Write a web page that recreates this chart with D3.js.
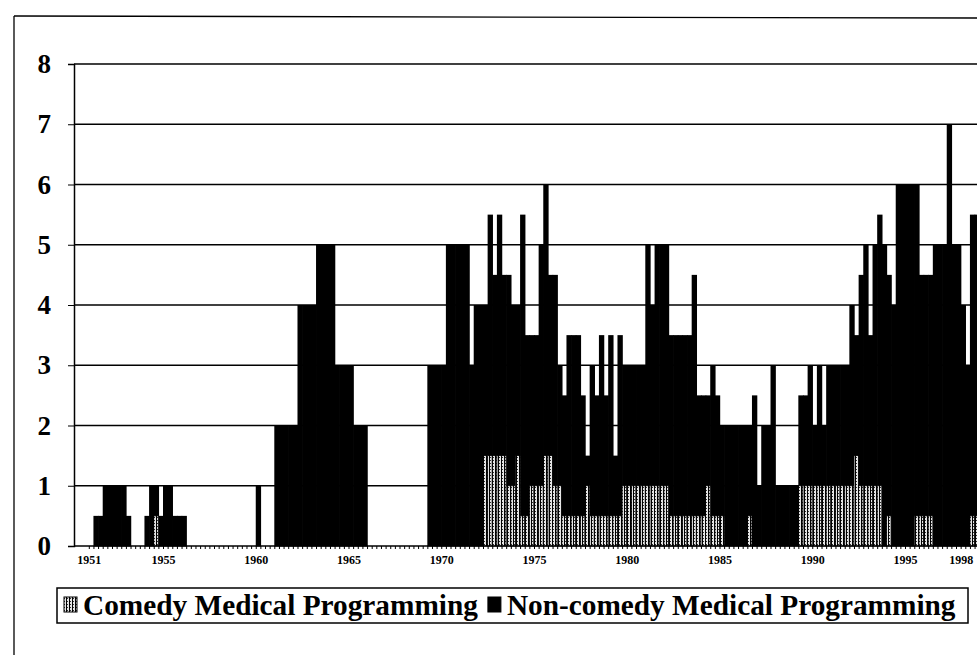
<!DOCTYPE html>
<html><head><meta charset="utf-8">
<script src="https://cdn.jsdelivr.net/npm/d3@7"></script>
<style>body{margin:0;background:#fff;} svg{display:block;}</style>
</head><body>
<svg id="chart" width="977" height="655"></svg>
<script>
// ---- DATA (quarterly counts of medical programmes on air) ----
const years = [1951,1952,1953,1954,1955,1956,1957,1958,1959,1960,
  1961,1962,1963,1964,1965,1966,1967,1968,1969,1970,
  1971,1972,1973,1974,1975,1976,1977,1978,1979,1980,
  1981,1982,1983,1984,1985,1986,1987,1988,1989,1990,
  1991,1992,1993,1994,1995,1996,1997,1998];
const quarterOffsets = [0, 0.25, 0.5, 0.75];

const comedy = [
  0,0,0,0,  0,0,0,0,  0,0,0,0,  0,0,0.5,0,  0,0,0,0,  0,0,0,0,      // 1951-1956
  0,0,0,0,  0,0,0,0,  0,0,0,0,  0,0,0,0,    0,0,0,0,  0,0,0,0,      // 1957-1962
  0,0,0,0,  0,0,0,0,  0,0,0,0,  0,0,0,0,    0,0,0,0,  0,0,0,0,      // 1963-1968
  0,0,0,0,  0,0,0,0,  0,0,0,0,  0,1.5,1.5,1.5,                      // 1969-1972
  1.5,1.5,1,1,  1.5,0.5,0.5,1,  1,1,1.5,1.5,  1,1,0.5,0.5,          // 1973-1976
  0.5,0.5,0.5,1,  0.5,0.5,0.5,0.5,  0.5,0.5,0.5,1,  1,1,1,1,        // 1977-1980
  1,1,1,1,  1,0.5,0.5,0.5,  0.5,0.5,0.5,0.5,  0.5,1,0.5,0.5,        // 1981-1984
  0.5,0,0,0,  0,0,0.5,0,  0,0,0,0,  0,0,0,0,                        // 1985-1988
  0,1,1,1,  1,1,1,1,  1,1,1,1,  1,1.5,1,1,                          // 1989-1992
  1,1,1,0,  0.5,0,0,0,  0,0,0.5,0.5,  0.5,0.5,0,0,                  // 1993-1996
  0,0,0,0,  0,0,0.5,0.5                                             // 1997-1998
];
const nonComedy = [
  0,0.5,0.5,1,  1,1,1,1,  0.5,0,0,0,  0.5,1,0.5,0.5,  1,1,0.5,0.5,  0.5,0,0,0, // 1951-1956
  0,0,0,0,  0,0,0,0,  0,0,0,0,  1,0,0,0,  2,2,2,2,  2,4,4,4,                   // 1957-1962
  4,5,5,5,  5,3,3,3,  3,2,2,2,  0,0,0,0,  0,0,0,0,  0,0,0,0,                   // 1963-1968
  0,3,3,3,  3,5,5,5,  5,5,3,4,  4,2.5,4,3,                                     // 1969-1972
  4,3,3.5,3,  2.5,5,3,2.5,  2.5,4,4.5,3,  3.5,2,2,3,                           // 1973-1976
  3,3,2,0.5,  2.5,2,3,2,  3,1,3,2,  2,2,2,2,                                   // 1977-1980
  4,3,4,4,  4,3,3,3,  3,3,4,2,  2,1.5,2.5,2,                                   // 1981-1984
  1.5,2,2,2,  2,2,1.5,2.5,  1,2,2,3,  1,1,1,1,                                 // 1985-1988
  1,1.5,1.5,2,  1,2,1,2,  2,2,2,2,  3,2,3.5,4,                                 // 1989-1992
  2.5,4,4.5,5,  4,4,6,6,  6,6,5.5,4,  4,4,5,5,                                 // 1993-1996
  5,7,5,5,  4,3,5,5                                                            // 1997-1998
];
const yTickValues = [0,1,2,3,4,5,6,7,8];
const xTickLabels = [1951,1955,1960,1965,1970,1975,1980,1985,1990,1995,1998];
const seriesKeys = ["comedy","nonComedy"];
const seriesNames = ["Comedy Medical Programming","Non-comedy Medical Programming"];

// ---- BUILD ----
const periods = years.flatMap(y => quarterOffsets.map(q => y + q));
const rows = periods.map((p,i) => ({period:p, comedy:comedy[i], nonComedy:nonComedy[i]}));
const stacked = d3.stack().keys(seriesKeys)(rows);

const svg = d3.select("#chart");
const plotLeft = 74, plotRight = 977;
const x = d3.scaleLinear().domain([1955, 1995]).range([163, 905]);
const y = d3.scaleLinear().domain([0, 8]).range([546, 64]);
const step = 0.25;

const defs = svg.append("defs");
const pat = defs.append("pattern").attr("id","comedyPat").attr("patternUnits","userSpaceOnUse")
  .attr("width",3).attr("height",3);
pat.append("rect").attr("width",3).attr("height",3).attr("fill","#e6e6e6");
pat.append("rect").attr("x",0).attr("y",0).attr("width",1).attr("height",3).attr("fill","#000");
pat.append("rect").attr("x",1).attr("y",1).attr("width",1).attr("height",1).attr("fill","#333");
defs.append("clipPath").attr("id","plotClip").append("rect")
  .attr("x",plotLeft).attr("y",0).attr("width",plotRight-plotLeft).attr("height",655);

// outer frame
svg.append("line").attr("x1",14).attr("x2",977).attr("y1",16).attr("y2",18).attr("stroke","#000").attr("stroke-width",1.3);
svg.append("line").attr("x1",14).attr("x2",14).attr("y1",16).attr("y2",655).attr("stroke","#000").attr("stroke-width",1.3);

// gridlines
svg.append("g").selectAll("line").data(yTickValues.filter(v=>v>0)).join("line")
  .attr("x1",plotLeft).attr("x2",plotRight).attr("y1",d=>y(d)).attr("y2",d=>y(d))
  .attr("stroke","#000").attr("stroke-width",1.5);

// bars
const fills = {comedy:"url(#comedyPat)", nonComedy:"#000"};
const barG = svg.append("g").attr("clip-path","url(#plotClip)");
// non-comedy first (solid, slightly overlapping to avoid seams), comedy on top
["nonComedy","comedy"].forEach(key => {
  const layer = stacked.find(l => l.key === key);
  barG.append("g").selectAll("rect")
    .data(layer.filter(d => d[1]-d[0] > 0))
    .join("rect")
    .attr("x", d => x(d.data.period))
    .attr("width", d => x(d.data.period+step) - x(d.data.period) + (key==="nonComedy"?0.7:0))
    .attr("y", d => y(d[1]))
    .attr("height", d => y(d[0]) - y(d[1]) + (key==="nonComedy"?0.5:0))
    .attr("fill", fills[key])
    .attr("stroke", key==="comedy" ? "#000" : "none").attr("stroke-width", 0.8);
});

// axes
const yAxis = d3.axisLeft(y).tickValues(yTickValues).tickSize(6).tickFormat(d3.format("d"));
const yg = svg.append("g").attr("transform",`translate(${plotLeft},0)`).call(yAxis);
yg.select(".domain").attr("stroke-width",1.5);
yg.selectAll("text").attr("x",-23).attr("font-family","'Liberation Serif', serif")
  .attr("font-size",27).attr("font-weight","bold").attr("fill","#000");

const xMinor = d3.axisBottom(x).tickValues(periods).tickSize(3).tickFormat("");
const xg = svg.append("g").attr("transform",`translate(0,${y(0)})`).call(xMinor);
xg.select(".domain").remove();
xg.selectAll("line").attr("stroke-width",1);
svg.append("line").attr("x1",plotLeft).attr("x2",plotRight).attr("y1",y(0)).attr("y2",y(0))
  .attr("stroke","#000").attr("stroke-width",1.5);
const xLab = d3.axisBottom(x).tickValues(xTickLabels).tickSize(0).tickFormat(d3.format("d"));
const xl = svg.append("g").attr("transform",`translate(0,${y(0)})`).call(xLab);
xl.select(".domain").remove();
xl.selectAll("text").attr("y",9).attr("font-family","'Liberation Serif', serif")
  .attr("font-size",12).attr("font-weight","bold").attr("fill","#000");

// legend
const lg = svg.append("g");
lg.append("rect").attr("x",57).attr("y",588).attr("width",911).attr("height",35)
  .attr("fill","#fff").attr("stroke","#000").attr("stroke-width",1.5);
let cx = 64;
seriesKeys.forEach((k,i) => {
  lg.append("rect").attr("x",cx).attr("y",597).attr("width",13).attr("height",15)
    .attr("fill",fills[k]).attr("stroke","#000").attr("stroke-width",1);
  const t = lg.append("text").attr("x",cx+19).attr("y",615)
    .attr("font-family","'Liberation Serif', serif").attr("font-size",29.3).attr("font-weight","bold")
    .text(seriesNames[i]);
  cx = cx + 19 + t.node().getComputedTextLength() + 10;
});
</script>
</body></html>
